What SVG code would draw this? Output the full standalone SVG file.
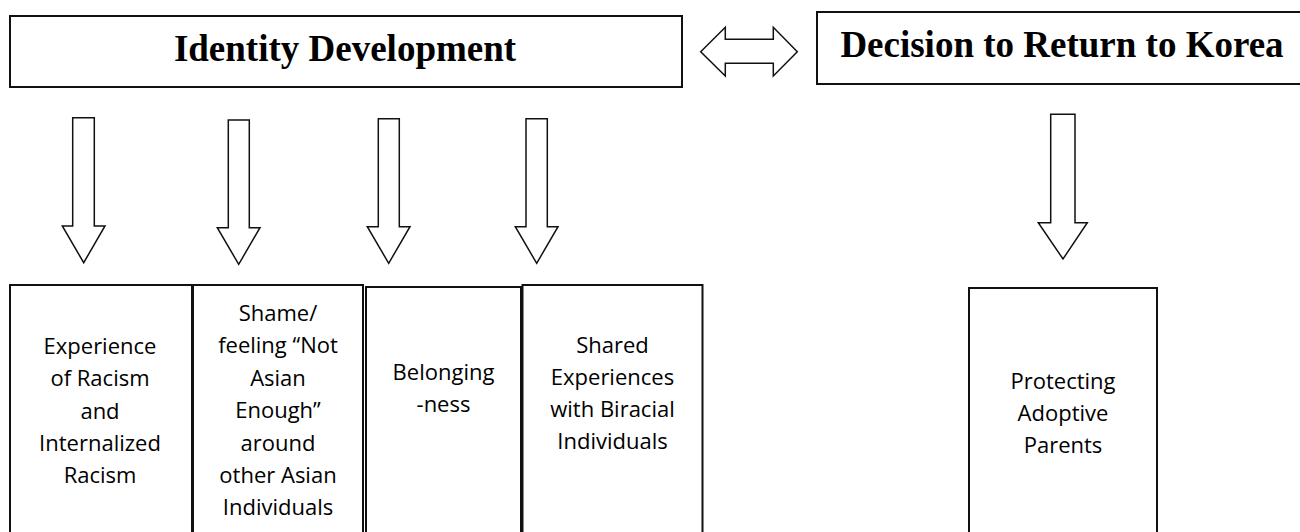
<svg xmlns="http://www.w3.org/2000/svg" width="1300" height="532" viewBox="0 0 1300 532">
<style>
.box{fill:#fff;stroke:#111;stroke-width:2}
.arr{fill:#fff;stroke:#111;stroke-width:1.5;stroke-linejoin:miter}
.title{font-family:"Liberation Serif","Times New Roman",serif;font-weight:bold;font-size:37px;fill:#000;text-anchor:middle}
.lbl{font-family:"Open Sans","Noto Sans",sans-serif;font-size:22px;fill:#000;text-anchor:middle}
</style>
<rect width="1300" height="532" fill="#fff"/>
<g id="identity-development">
<rect class="box" x="10" y="16" width="672" height="71"/>
<text class="title" x="345" y="61">Identity Development</text>
</g>
<g id="decision-to-return">
<rect class="box" x="817" y="12" width="500" height="72"/>
<text class="title" x="1062" y="57">Decision to Return to Korea</text>
</g>
<g id="racism">
<rect class="box" x="10" y="285" width="182" height="260"/>
<text class="lbl" x="100" y="354">Experience</text>
<text class="lbl" x="100" y="386.3">of Racism</text>
<text class="lbl" x="100" y="418.6">and</text>
<text class="lbl" x="100" y="450.9">Internalized</text>
<text class="lbl" x="100" y="483.2">Racism</text>
</g>
<g id="shame">
<rect class="box" x="193" y="285" width="170" height="260"/>
<text class="lbl" x="278" y="321">Shame/</text>
<text class="lbl" x="278" y="353.4">feeling “Not</text>
<text class="lbl" x="278" y="385.8">Asian</text>
<text class="lbl" x="278" y="418.2">Enough”</text>
<text class="lbl" x="278" y="450.6">around</text>
<text class="lbl" x="278" y="483">other Asian</text>
<text class="lbl" x="278" y="515.4">Individuals</text>
</g>
<g id="belongingness">
<rect class="box" x="366" y="287" width="155" height="260"/>
<text class="lbl" x="443.5" y="380">Belonging</text>
<text class="lbl" x="443.5" y="412">-ness</text>
</g>
<g id="shared-experiences">
<rect class="box" x="522.5" y="285" width="180" height="260"/>
<text class="lbl" x="612.5" y="353.3">Shared</text>
<text class="lbl" x="612.5" y="385.3">Experiences</text>
<text class="lbl" x="612.5" y="417.3">with Biracial</text>
<text class="lbl" x="612.5" y="449.3">Individuals</text>
</g>
<g id="protecting-parents">
<rect class="box" x="969" y="288" width="188" height="260"/>
<text class="lbl" x="1063" y="388.5">Protecting</text>
<text class="lbl" x="1063" y="420.5">Adoptive</text>
<text class="lbl" x="1063" y="452.5">Parents</text>
</g>
<g id="connectors">
<polygon class="arr" points="700.7,51.7 725.3,27.3 725.3,39.3 773.3,39.3 773.3,27.3 797.3,51.7 773.3,76 773.3,63.3 725.3,63.3 725.3,76"/>
<polygon class="arr" points="72.7,117.7 94.3,117.7 94.3,226 105,226 83.7,262.7 62.3,226 72.7,226"/>
<polygon class="arr" points="228.3,120 249.3,120 249.3,227.7 260,227.7 238.7,264.3 217.3,227.7 228.3,227.7"/>
<polygon class="arr" points="378.3,118.7 399.3,118.7 399.3,226.7 410,226.7 388.7,263.3 367.3,226.7 378.3,226.7"/>
<polygon class="arr" points="526,118.7 547.3,118.7 547.3,226.7 558,226.7 536.7,263.3 515.3,226.7 526,226.7"/>
<polygon class="arr" points="1050.7,114.3 1075,114.3 1075,222.7 1087.3,222.7 1063,259 1038.3,222.7 1050.7,222.7"/>
</g>
</svg>
